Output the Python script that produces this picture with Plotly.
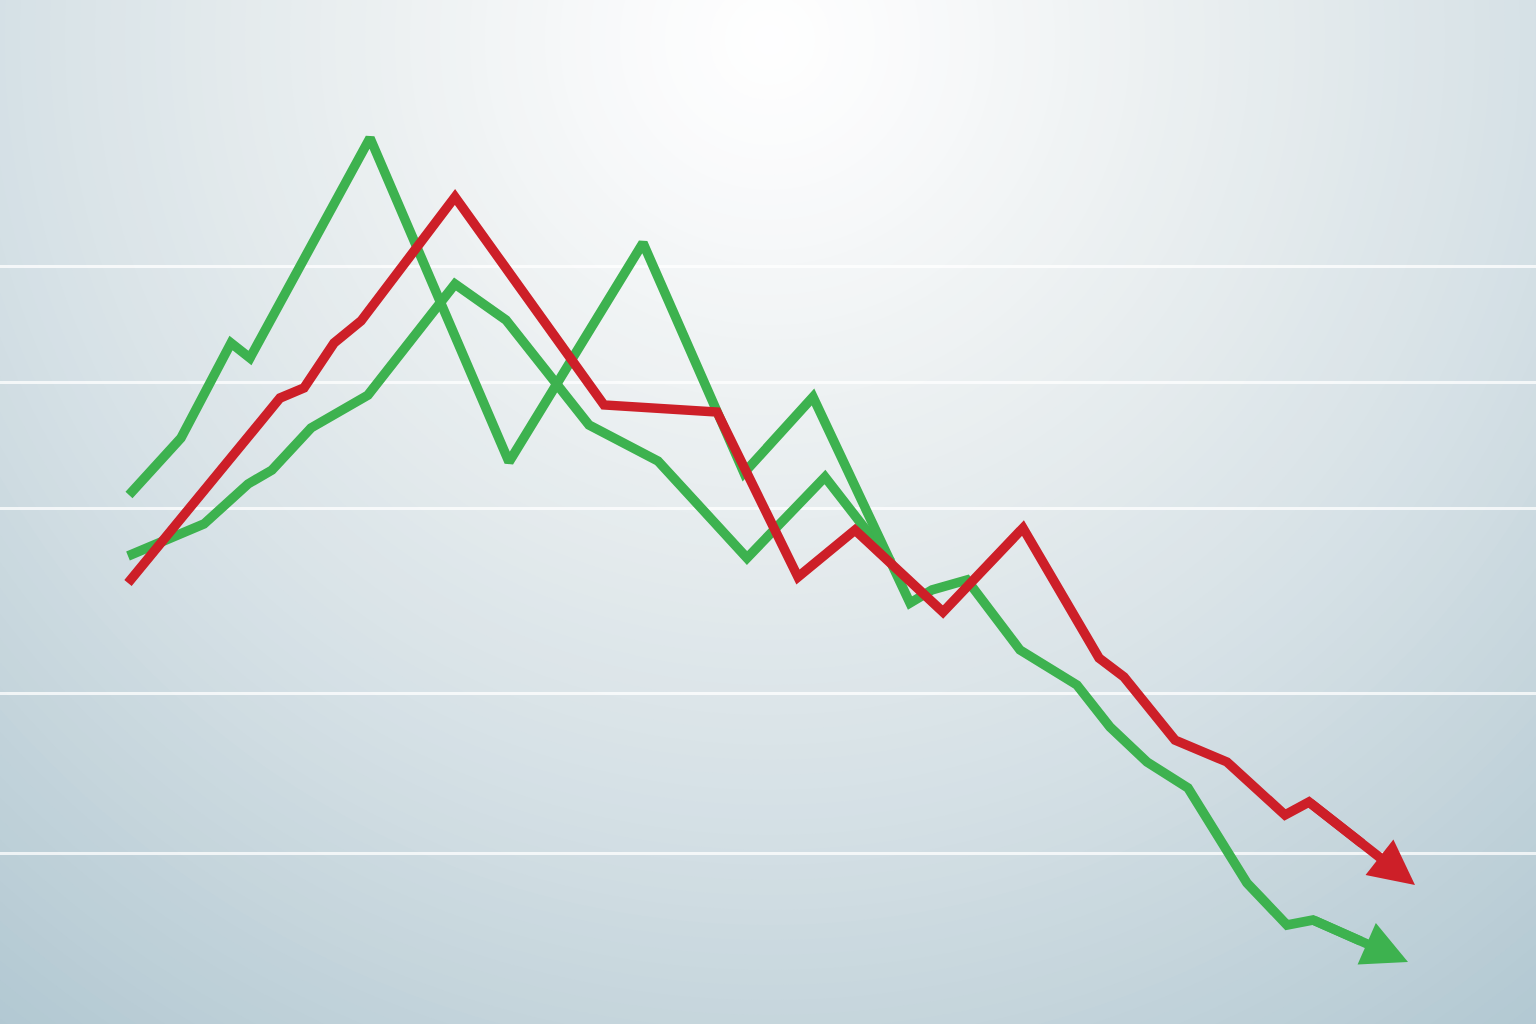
import plotly.graph_objects as go

# ---------------- data (y = level, higher is up) ----------------
# Green series A (spiky); last point is the arrow tip
green_a_x = [129, 181, 231, 250, 370, 509, 643, 744, 813, 910, 932, 967, 1020, 1077, 1110, 1147, 1188, 1247, 1287, 1313, 1408]
green_a_y = [529, 586, 681, 666, 886, 562, 781, 551, 627, 421, 434, 444, 374, 339, 297, 262, 236, 141, 99, 104, 62]

# Green series B (smoother, merges into A)
green_b_x = [128, 204, 248, 272, 311, 368, 455, 506, 589, 658, 747, 825, 891]
green_b_y = [468, 500, 540, 554, 596, 629, 740, 704, 599, 563, 466, 547, 462]

# Red series; last point is the arrow tip
red_x = [128, 230, 280, 304, 334, 361, 455, 604, 717, 798, 855, 943, 1023, 1099, 1124, 1175, 1227, 1285, 1309, 1415]
red_y = [441, 563, 626, 636, 681, 703, 827, 619, 612, 447, 494, 412, 496, 366, 347, 284, 262, 209, 222, 139]

# horizontal reference levels (grid)
grid_levels = [758, 642, 516, 331, 171]

# ---------------- style ----------------
GREEN = "#3db24f"
RED = "#cd1f28"
LW = 9.5
W, H = 1536, 1024

fig = go.Figure()

# radial background gradient made of concentric filled circles
stops = [(0, (255, 255, 255)), (150, (249, 250, 251)), (300, (241, 244, 245)),
         (500, (230, 236, 238)), (770, (214, 225, 230)), (1000, (197, 213, 220)),
         (1260, (178, 200, 210)), (1500, (168, 192, 203))]


def col_at(d):
    for (d0, c0), (d1, c1) in zip(stops, stops[1:]):
        if d <= d1:
            t = (d - d0) / (d1 - d0)
            return "rgb(%d,%d,%d)" % tuple(round(a + (b - a) * t) for a, b in zip(c0, c1))
    return "rgb(%d,%d,%d)" % stops[-1][1]


cx, cy = 770, H - 40
shapes = []
n = 100
for i in range(n):
    r = 1500 * (1 - i / n)
    shapes.append(dict(type="circle", xref="x", yref="y", layer="below",
                       x0=cx - r, x1=cx + r, y0=cy - r, y1=cy + r,
                       line=dict(width=0), fillcolor=col_at(r)))


def with_stub(xs, ys, frac=0.5):
    """series without its arrow tip, extended part-way toward the tip so the
    annotation arrow joins smoothly"""
    px = xs[-2] + (xs[-1] - xs[-2]) * frac
    py = ys[-2] + (ys[-1] - ys[-2]) * frac
    return list(xs[:-1]) + [px], list(ys[:-1]) + [py]


fig.add_trace(go.Scatter(x=green_b_x, y=green_b_y, mode="lines",
                         line=dict(color=GREEN, width=LW), hoverinfo="skip"))
gx, gy = with_stub(green_a_x, green_a_y)
fig.add_trace(go.Scatter(x=gx, y=gy, mode="lines",
                         line=dict(color=GREEN, width=LW), hoverinfo="skip"))
rx, ry = with_stub(red_x, red_y)
fig.add_trace(go.Scatter(x=rx, y=ry, mode="lines",
                         line=dict(color=RED, width=LW), hoverinfo="skip"))

annotations = []
for xs, ys, c in [(green_a_x, green_a_y, GREEN), (red_x, red_y, RED)]:
    annotations.append(dict(x=xs[-1], y=ys[-1], ax=xs[-2], ay=ys[-2],
                            xref="x", yref="y", axref="x", ayref="y",
                            text="", showarrow=True, arrowhead=2,
                            arrowwidth=LW, arrowsize=0.95, arrowcolor=c))

fig.update_layout(
    width=W, height=H, margin=dict(l=0, r=0, t=0, b=0),
    paper_bgcolor="rgb(200,214,220)", plot_bgcolor="rgba(0,0,0,0)",
    showlegend=False, shapes=shapes, annotations=annotations,
    xaxis=dict(range=[0, W], showgrid=False, zeroline=False, showticklabels=False,
               ticks="", fixedrange=True),
    yaxis=dict(range=[0, H], tickvals=grid_levels, showgrid=True,
               gridcolor="rgba(255,255,255,0.75)", gridwidth=2.5, zeroline=False,
               showticklabels=False, ticks="", fixedrange=True),
)

fig.write_html("out.html", config={"displayModeBar": False},
               post_script="document.body.style.margin='0';document.body.style.overflow='hidden';")
